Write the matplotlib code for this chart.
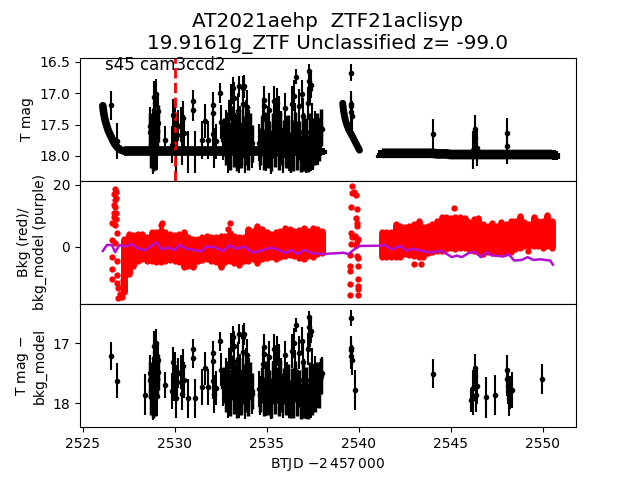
import numpy as np
import matplotlib.pyplot as plt

# error bar points, same dates in the top and bottom panels
spike_t = [2526.55, 2526.87, 2528.39, 2528.68, 2528.72, 2528.80, 2528.83, 2528.88, 2528.90, 2528.93,
           2528.96, 2528.98, 2529.02, 2529.05, 2529.10, 2529.50, 2529.85, 2529.92, 2529.97, 2530.03,
           2530.08, 2530.12, 2530.17, 2530.35, 2530.42, 2530.47, 2530.52, 2530.75, 2531.00, 2531.01,
           2531.09, 2531.50, 2531.67, 2531.81, 2532.08, 2532.09, 2532.10, 2532.13, 2532.26, 2532.44,
           2532.53, 2532.62, 2532.80, 2532.90, 2532.98, 2532.99, 2533.07, 2533.13, 2533.16, 2533.20,
           2533.25, 2533.30, 2533.38, 2533.43, 2533.49, 2533.52, 2533.56, 2533.63, 2533.70, 2533.74,
           2533.79, 2533.81, 2533.85, 2533.88, 2533.94, 2533.99, 2534.06, 2534.21, 2534.60, 2534.61,
           2534.78, 2534.87, 2534.88, 2534.96, 2535.05, 2535.14, 2535.23, 2535.32, 2535.41, 2535.50,
           2535.54, 2535.65, 2535.68, 2535.77, 2535.87, 2535.97, 2536.13, 2536.22, 2536.31, 2536.40,
           2536.50, 2536.55, 2536.60, 2536.68, 2536.77, 2536.86, 2536.91, 2536.98, 2537.04, 2537.13,
           2537.22, 2537.31, 2537.32, 2537.34, 2537.38, 2537.40, 2537.45, 2537.52, 2537.63, 2537.76,
           2537.88, 2537.99, 2539.57, 2539.58, 2539.59, 2539.60, 2539.61, 2539.82, 2544.02, 2546.10,
           2546.18, 2546.22, 2546.29, 2546.32, 2546.38, 2546.43, 2546.90, 2547.41, 2548.04, 2548.05,
           2548.10, 2548.18, 2548.22, 2548.33, 2549.95]
spike_err = [.23, .29, .34, .30, .32, .33, .30, .27, .25, .26,
             .33, .23, .30, .33, .26, .22, .30, .25, .32, .30,
             .33, .28, .25, .28, .27, .28, .30, .33, .17, .17,
             .33, .30, .27, .30, .20, .22, .30, .32, .28, .16,
             .27, .32, .30, .30, .30, .33, .27, .32, .18, .25,
             .30, .32, .33, .28, .17, .30, .32, .33, .20, .26,
             .18, .28, .30, .32, .27, .33, .30, .33, .30, .33,
             .30, .22, .25, .33, .32, .28, .28, .32, .25, .28,
             .25, .30, .33, .30, .30, .24, .30, .22, .30, .28,
             .25, .32, .12, .33, .27, .22, .22, .30, .33, .28,
             .26, .10, .15, .20, .20, .22, .30, .33, .30, .30,
             .28, .26, .13, .20, .20, .22, .25, .33, .24, .20,
             .30, .28, .22, .24, .28, .30, .34, .33, .24, .28,
             .30, .30, .28, .30, .25]
detrended_mag = [17.21, 17.63, 17.86, 17.50, 17.80, 17.95, 17.55, 17.25, 17.05, 17.15,
                 17.80, 17.00, 17.60, 17.88, 17.28, 17.70, 17.80, 17.32, 17.65, 17.45,
                 17.92, 17.65, 17.50, 17.48, 17.85, 17.38, 17.62, 17.92, 17.10, 17.25,
                 17.92, 17.73, 17.42, 17.73, 17.16, 17.30, 17.63, 17.85, 17.75, 16.97,
                 17.44, 17.73, 17.55, 17.95, 17.38, 17.78, 17.10, 17.60, 16.90, 17.05,
                 17.32, 17.65, 17.87, 17.26, 16.85, 17.95, 17.50, 17.78, 16.90, 17.15,
                 16.85, 17.98, 17.38, 17.63, 17.20, 17.82, 17.55, 17.85, 17.76, 17.87,
                 17.35, 17.07, 17.18, 17.88, 17.50, 17.24, 17.98, 17.62, 17.10, 17.32,
                 17.13, 17.32, 17.82, 17.55, 17.95, 17.20, 17.62, 18.03, 17.95, 17.13,
                 17.00, 17.44, 16.70, 17.78, 17.16, 18.03, 16.96, 17.32, 17.60, 17.98,
                 17.10, 16.57, 16.73, 16.87, 16.80, 18.03, 17.38, 17.82, 17.52, 17.78,
                 17.60, 17.50, 16.58, 17.08, 17.11, 17.21, 17.28, 17.78, 17.51, 17.95,
                 17.75, 17.92, 17.41, 17.55, 17.87, 17.71, 17.90, 17.86, 17.44, 17.60,
                 17.72, 17.92, 17.82, 17.78, 17.60]
t_mag = [17.19, 17.76, np.nan, 17.52, 17.82, 17.96, 17.56, 17.26, 17.06, 17.16,
         17.81, 17.01, 17.61, 17.89, 17.29, 17.74, 17.82, 17.34, 17.67, 17.47,
         17.94, 17.67, 17.52, 17.50, 17.87, 17.40, 17.64, 17.94, 17.12, 17.27,
         17.94, 17.75, 17.44, 17.75, 17.18, 17.32, 17.65, 17.87, 17.77, 16.99,
         17.46, 17.75, 17.57, 17.97, 17.40, 17.80, 17.12, 17.62, 16.92, 17.07,
         17.34, 17.67, 17.89, 17.28, 16.89, 17.97, 17.52, 17.80, 16.92, 17.17,
         16.89, 18.00, 17.40, 17.65, 17.22, 17.84, 17.57, 17.87, 17.79, 17.90,
         17.38, 17.10, 17.21, 17.91, 17.53, 17.27, 18.01, 17.65, 17.13, 17.35,
         17.16, 17.35, 17.85, 17.58, 17.98, 17.24, 17.66, 18.03, 17.97, 17.17,
         17.04, 17.48, 16.74, 17.82, 17.20, 18.03, 17.01, 17.37, 17.65, 18.00,
         17.16, 16.64, 16.80, 16.94, 16.87, 18.03, 17.45, 17.89, 17.59, 17.85,
         17.67, 17.57, 16.67, 17.17, 17.20, 17.30, 17.37, np.nan, 17.65, np.nan,
         17.91, np.nan, 17.57, 17.71, np.nan, 17.87, np.nan, np.nan, 17.64, 17.85,
         np.nan, np.nan, np.nan, np.nan, np.nan]

# faint points that fill the crowded stretches, drawn in both magnitude panels
dense_t = [2528.66, 2528.72, 2528.78, 2528.84, 2528.90, 2528.96, 2529.02, 2529.08,
           2532.70, 2532.80, 2532.90, 2533.00, 2533.10, 2533.20, 2533.30, 2533.40,
           2533.50, 2533.60, 2533.70, 2533.80, 2533.90, 2534.00, 2534.10, 2534.20,
           2534.65, 2534.75, 2534.85, 2534.95, 2535.05, 2535.15, 2535.25, 2535.35, 2535.45,
           2535.55, 2535.65, 2535.75, 2535.85, 2535.95, 2536.05, 2536.15, 2536.25, 2536.35,
           2536.45, 2536.55, 2536.65, 2536.75, 2536.85, 2536.95, 2537.05, 2537.15, 2537.25,
           2537.35, 2537.45, 2537.55, 2537.65, 2537.75, 2537.85, 2537.95]
dense_mag = [17.62, 17.90, 17.70, 17.95, 17.55, 17.92, 17.60, 17.48,
             17.70, 17.85, 17.60, 17.92, 17.50, 17.88, 17.65, 17.95,
             17.55, 17.90, 17.70, 17.85, 17.50, 17.92, 17.62, 17.80,
             17.85, 17.70, 17.92, 17.60, 17.90, 17.75, 17.95, 17.62, 17.88,
             17.70, 17.92, 17.58, 17.85, 17.72, 17.90, 17.65, 17.95, 17.72,
             17.95, 17.60, 17.92, 17.75, 17.96, 17.62, 17.95, 17.70, 17.96,
             17.62, 17.90, 17.70, 17.85, 17.62, 17.78, 17.55]

# the two scattered-light curves at the start of each orbit
curve1_t = [2526.10, 2526.14, 2526.20, 2526.26, 2526.40, 2526.57, 2526.72, 2526.90, 2527.10, 2527.30]
curve1_mag = [17.20, 17.30, 17.40, 17.47, 17.60, 17.71, 17.80, 17.87, 17.91, 17.93]
curve2_t = [2539.13, 2539.17, 2539.25, 2539.30, 2539.45, 2539.71, 2539.88, 2540.04]
curve2_mag = [17.16, 17.27, 17.40, 17.46, 17.58, 17.72, 17.82, 17.91]

# columns of the dense part of each orbit
left_t = [2527.25, 2527.50, 2527.75, 2528.00, 2528.25, 2528.50, 2528.75, 2529.00, 2529.25, 2529.50, 2529.75,
          2530.00, 2530.25, 2530.50, 2530.75, 2531.00, 2531.25, 2531.50, 2531.75, 2532.00, 2532.25, 2532.50,
          2532.75, 2533.00, 2533.25, 2533.50, 2533.75, 2534.00, 2534.25, 2534.50, 2534.75, 2535.00, 2535.25,
          2535.50, 2535.75, 2536.00, 2536.25, 2536.50, 2536.75, 2537.00, 2537.25, 2537.50, 2537.75, 2538.00]
left_band = [17.93, 17.93, 17.93, 17.93, 17.93, 17.93, 17.93, 17.93, 17.93, 17.93, 17.93,
             17.93, 17.93, 17.93, 17.93, 17.93, 17.93, 17.93, 17.93, 17.93, 17.93, 17.93,
             17.93, 17.93, 17.93, 17.93, 17.93, 17.93, 17.93, 17.93, 17.93, 17.93, 17.93,
             17.93, 17.93, 17.93, 17.93, 17.93, 17.93, 17.93, 17.93, 17.93, 17.93, 17.93]
left_hi = [2.5, 4.2, 3.7, 4.2, 4.2, 3.1, 4.7, 4.9, 5.5, 4.7, 4.2,
           3.8, 4.2, 4.7, 3.1, 2.5, 2.7, 3.1, 3.6, 3.1, 3.1, 3.6,
           3.6, 4.5, 3.6, 3.1, 3.1, 5.7, 5.2, 6.6, 5.7, 4.9, 4.2,
           4.7, 5.2, 6.2, 5.7, 5.2, 5.5, 6.2, 5.2, 6.2, 5.7, 5.2]
left_lo = [-14.5, -8.8, -6.1, -4.5, -3.9, -4.5, -4.5, -5.0, -5.0, -4.5, -4.3,
           -4.5, -5.0, -6.6, -6.1, -6.6, -4.5, -4.3, -3.9, -4.5, -5.0, -6.6,
           -5.0, -4.5, -5.3, -5.8, -4.5, -4.5, -3.9, -5.3, -3.9, -3.6, -3.4,
           -3.9, -3.4, -2.8, -2.5, -2.8, -3.6, -3.9, -2.8, -3.2, -2.3, -2.1]
right_t = [2541.25, 2541.50, 2541.75, 2542.00, 2542.25, 2542.50, 2542.75, 2543.00, 2543.25, 2543.50,
           2543.75, 2544.00, 2544.25, 2544.50, 2544.75, 2545.00, 2545.25, 2545.50, 2545.75, 2546.00,
           2546.25, 2546.50, 2546.75, 2547.00, 2547.25, 2547.50, 2547.75, 2548.00, 2548.25, 2548.50,
           2548.75, 2549.00, 2549.25, 2549.50, 2549.75, 2550.00, 2550.25, 2550.50]
right_band = [17.96, 17.96, 17.96, 17.96, 17.96, 17.96, 17.96, 17.96, 17.96, 17.96,
              17.96, 17.96, 17.97, 17.97, 17.97, 17.98, 17.98, 17.98, 17.98, 17.98,
              17.98, 17.98, 17.98, 17.98, 17.98, 17.98, 17.98, 17.98, 17.98, 17.98,
              17.98, 17.98, 17.98, 17.98, 17.98, 17.98, 17.98, 17.98]
right_hi = [4.7, 4.9, 4.9, 7.4, 6.8, 6.3, 6.8, 7.4, 8.4, 6.3,
            6.8, 7.4, 8.4, 9.5, 9.5, 9.2, 9.5, 9.5, 9.2, 7.9,
            9.0, 9.2, 7.4, 6.8, 7.7, 6.8, 8.1, 7.4, 8.4, 8.4,
            10.1, 7.9, 7.4, 9.5, 8.4, 8.4, 10.4, 8.4]
right_lo = [-3.4, -3.4, -3.4, -3.2, -3.4, -2.3, -2.5, -3.0, -3.4, -3.3,
            -2.1, -1.5, -1.2, -1.2, -0.7, -0.4, -0.7, -0.2, -0.2, -0.7,
            -1.2, -1.8, -2.3, -1.8, -2.1, -2.1, -1.8, -2.1, -1.5, -0.7,
            -0.2, 0.4, 0.3, 0.4, 0.4, -0.2, 0.4, -0.2]

# tapered ends of the flat magnitude bands
band_end_t = [2538.08, 2538.15, 2541.02, 2541.08, 2541.16, 2550.60, 2550.70, 2550.80]
band_end_mag = [17.93, 17.94, 18.01, 17.99, 17.97, 17.98, 17.99, 18.00]
band_end_err = [.06, .03, .02, .04, .07, .08, .07, .05]

# scattered background points away from the dense columns
bkg_t = [2526.77, 2526.80, 2526.71, 2526.82, 2526.75, 2526.68, 2526.77, 2526.68, 2526.80, 2526.71,
         2526.84, 2526.62, 2526.77, 2526.86, 2526.62, 2526.77, 2526.62, 2526.86, 2526.59, 2526.59,
         2526.86, 2526.86, 2526.95, 2527.04, 2526.95, 2527.13, 2527.13, 2527.22,
         2529.25, 2529.30, 2532.90, 2533.00, 2543.00, 2543.40, 2545.20, 2549.20,
         2539.65, 2539.76, 2539.65, 2539.84, 2539.58, 2539.88, 2539.86, 2539.88, 2539.88,
         2539.58, 2539.62, 2539.80, 2539.90, 2539.60, 2539.84, 2539.95, 2539.55, 2539.92,
         2539.97, 2539.55, 2539.53, 2539.97, 2539.53, 2539.97, 2539.97, 2539.53, 2539.97, 2539.97]
bkg_val = [18.6, 17.8, 17.0, 15.7, 15.2, 13.5, 13.0, 10.8, 10.8, 9.7,
           8.9, 7.6, 7.1, 4.4, 2.3, 1.2, -3.3, -4.5, -7.2, -10.3,
           -9.0, -11.7, -13.3, -15.1, -16.5, -16.0, -12.8, -10.6,
           7.0, 7.8, 5.7, 7.6, -5.6, -5.6, 12.4, -1.3,
           19.6, 17.8, 17.5, 16.8, 12.8, 12.1, 9.4, 7.8, 6.7,
           4.5, 3.2, 3.5, 2.0, 1.0, 0.7, 2.5, -2.6, -2.9,
           -3.7, -6.2, -7.8, -6.0, -12.1, -10.5, -12.6, -15.4, -13.7, -15.4]

# purple model line
model_t = [2526.10, 2526.32, 2526.59, 2526.77, 2527.00, 2527.31, 2527.67, 2528.03, 2528.39, 2528.69,
           2529.02, 2529.29, 2529.65, 2530.01, 2530.28, 2530.64, 2531.09, 2531.45, 2531.72, 2532.17,
           2532.62, 2532.98, 2533.34, 2533.79, 2534.24, 2534.69, 2535.14, 2535.50, 2536.04, 2536.31,
           2536.67, 2537.03, 2537.49, 2538.03, 2539.17, 2539.44, 2539.71, 2540.04, 2541.25, 2541.43,
           2541.79, 2542.25, 2542.61, 2542.97, 2543.33, 2543.88, 2544.51, 2545.06, 2545.33, 2545.60,
           2545.96, 2546.32, 2546.63, 2546.96, 2547.23, 2547.86, 2548.13, 2548.44, 2548.86, 2549.17,
           2549.49, 2549.86, 2550.40, 2550.54]
model_val = [-1.3, 0.6, 0.6, -1.7, 0.6, 0.1, 0.9, -0.6, -1.0, 0.1,
             1.4, -0.8, -0.2, -1.0, 0.6, -0.6, -1.0, -1.5, 0.1, -0.1,
             -1.3, 0.5, -0.6, 0.1, -1.8, -1.3, -0.3, -0.6, -2.0, -1.0,
             -2.3, -1.0, -2.0, -2.3, -1.9, -2.3, -1.0, 0.3, 0.4, 0.6,
             -0.8, 0.3, -1.2, -0.5, -1.2, -1.8, -1.3, -3.3, -2.8, -3.3,
             -2.0, -1.6, -3.3, -1.7, -2.7, -3.1, -2.3, -4.4, -4.2, -3.3,
             -4.2, -4.0, -4.4, -5.7]

fig, (ax1, ax2, ax3) = plt.subplots(3, 1, sharex=True)
fig.subplots_adjust(hspace=0)

ax1.plot(curve1_t, curve1_mag, 'k-', linewidth=5.5, solid_capstyle='round')
ax1.plot(curve2_t, curve2_mag, 'k-', linewidth=5, solid_capstyle='round')
ax1.plot(left_t, left_band, 'k-', linewidth=7, solid_capstyle='butt')
ax1.plot(right_t, right_band, 'k-', linewidth=7, solid_capstyle='butt')
ax1.errorbar(band_end_t, band_end_mag, yerr=band_end_err, fmt='none', ecolor='k', elinewidth=3)
ax1.errorbar(spike_t, t_mag, yerr=spike_err, fmt='k.')
ax1.errorbar(dense_t, dense_mag, yerr=0.3, fmt='k.', elinewidth=2.5)
ax1.axvline(2530, color='red', linestyle='--', linewidth=2)
ax1.text(2526.2, 16.63, 's45 cam3ccd2', fontsize=12)
ax1.set_xlim(2524.86, 2551.8)
ax1.set_ylim(18.4, 16.43)
ax1.set_yticks([16.5, 17, 17.5, 18])
ax1.set_yticklabels(['16.5', '17.0', '17.5', '18.0'])
ax1.set_ylabel('T mag')
ax1.set_title('AT2021aehp  ZTF21aclisyp\n19.9161g_ZTF Unclassified z= -99.0', fontsize=14.4)
ax1.tick_params(bottom=False)

ax2.vlines(left_t, left_lo, left_hi, color='red', linewidth=5)
ax2.vlines(right_t, right_lo, right_hi, color='red', linewidth=5)
ax2.plot(left_t, left_hi, 'r.', markersize=7)
ax2.plot(left_t, left_lo, 'r.', markersize=7)
ax2.plot(right_t, right_hi, 'r.', markersize=7)
ax2.plot(right_t, right_lo, 'r.', markersize=7)
ax2.plot(bkg_t, bkg_val, 'r.', markersize=7)
ax2.plot(model_t, model_val, color='#b30fd0', linewidth=1.8)
ax2.set_ylim(-18.4, 21.3)
ax2.set_yticks([0, 20])
ax2.set_ylabel('Bkg (red)/\nbkg_model (purple)')
ax2.tick_params(bottom=False)

ax3.errorbar(spike_t, detrended_mag, yerr=spike_err, fmt='k.')
ax3.errorbar(dense_t, dense_mag, yerr=0.3, fmt='k.', elinewidth=2.5)
ax3.set_ylim(18.4, 16.35)
ax3.set_yticks([17, 18])
ax3.set_ylabel('T mag $-$\nbkg_model')
ax3.set_xlabel(r'BTJD $-2\,457\,000$')
ax3.set_xticks([2525, 2530, 2535, 2540, 2545, 2550])

fig.savefig('out.png', dpi=100)
